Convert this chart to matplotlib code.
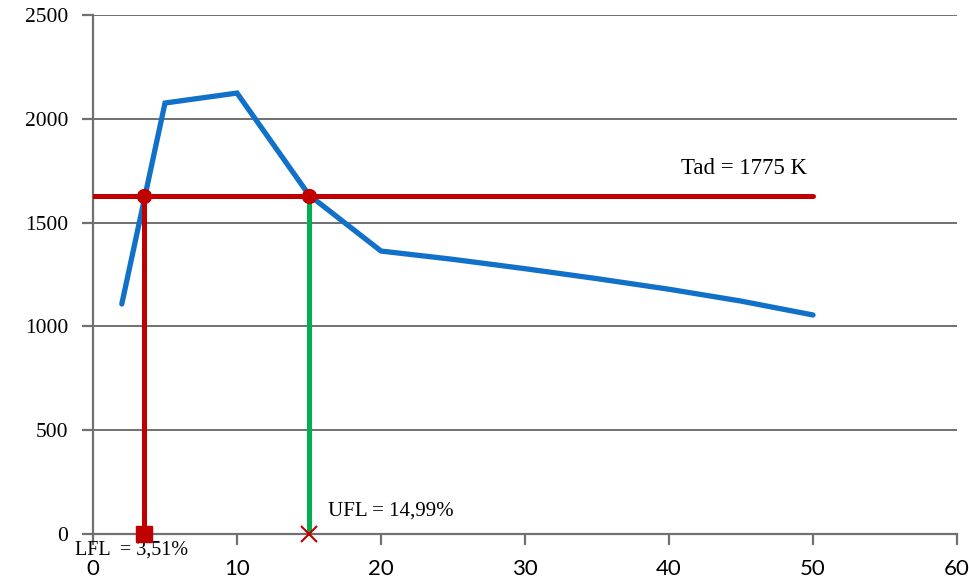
import matplotlib
matplotlib.use("Agg")
import matplotlib.pyplot as plt

# Adiabatic flame temperature vs. fuel concentration
conc = [2, 5, 10, 15, 20, 25, 30, 35, 40, 45, 50]
temp = [1108, 2076, 2124, 1633, 1363, 1323, 1278, 1230, 1179, 1122, 1055]

t_level = 1630          # horizontal reference level
lfl = 3.51
ufl = 14.99
x_ticks = [0, 10, 20, 30, 40, 50, 60]
y_ticks = [0, 500, 1000, 1500, 2000, 2500]

BLUE = "#1170C8"
RED = "#C00000"
GREEN = "#00B050"
GRID = "#707070"

fig = plt.figure(figsize=(9.69, 5.79), dpi=100)
ax = fig.add_axes([93 / 969, 1 - 534 / 579, (957 - 93) / 969, (534 - 15) / 579])

ax.set_xlim(0, 60)
ax.set_ylim(0, 2500)
ax.set_xticks(x_ticks)
ax.set_yticks(y_ticks)
ax.yaxis.grid(True, color=GRID, linewidth=1.4)
ax.set_axisbelow(True)

for side in ("top", "right"):
    ax.spines[side].set_visible(False)
for side in ("left", "bottom"):
    ax.spines[side].set_color(GRID)
    ax.spines[side].set_linewidth(1.6)
ax.tick_params(axis="both", color=GRID, width=1.6, length=8, direction="out")
ax.tick_params(axis="x", labelsize=16, pad=10)
ax.tick_params(axis="y", labelsize=15.5, pad=10)
for lab in ax.get_xticklabels():
    lab.set_fontfamily("Lato")
for lab in ax.get_yticklabels():
    lab.set_fontfamily("Liberation Serif")

# temperature curve
ax.plot(conc, temp, color=BLUE, linewidth=3.8, solid_capstyle="round",
        solid_joinstyle="miter", zorder=3)

# flammability construction lines
ax.plot([0, 50], [t_level, t_level], color=RED, linewidth=3.6,
        solid_capstyle="round", zorder=4)
ax.plot([lfl, lfl], [0, t_level], color=RED, linewidth=3.6, zorder=4)
ax.plot([ufl, ufl], [0, t_level], color=GREEN, linewidth=3.6, zorder=4)
ax.plot([lfl, ufl], [t_level, t_level], "o", color=RED, markersize=10, zorder=5)
ax.plot([lfl], [0], "s", color=RED, markersize=12, zorder=6, clip_on=False)
ax.plot([ufl], [0], "x", color=RED, markersize=12, markeredgewidth=1.5,
        zorder=6, clip_on=False)

ax.text(40.8, 1710, "Tad = 1775 K", fontsize=16.5, family="Liberation Serif",
        ha="left", va="bottom")
ax.text(16.3, 65, "UFL = 14,99%", fontsize=15, family="Liberation Serif",
        ha="left", va="bottom")
ax.text(-1.25, -30, "LFL  = 3,51%", fontsize=14.5, family="Liberation Serif",
        ha="left", va="top", clip_on=False)

fig.savefig("out.png", dpi=100)
